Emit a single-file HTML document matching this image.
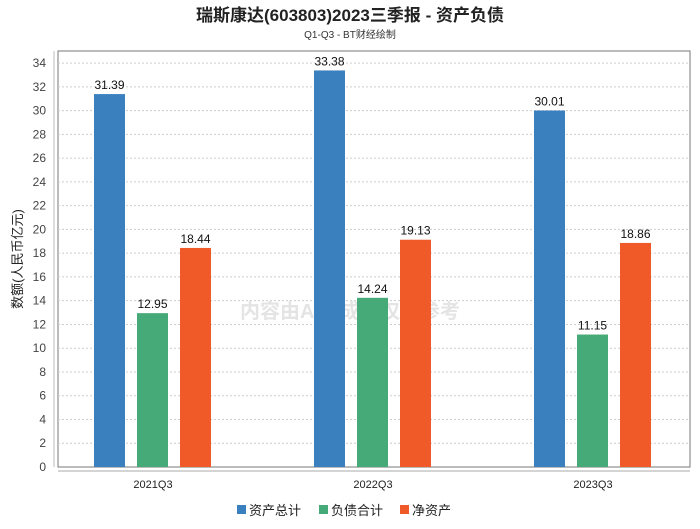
<!DOCTYPE html>
<html><head><meta charset="utf-8"><style>
body{margin:0;background:#fff;font-family:"Liberation Sans","Noto Sans CJK SC",sans-serif}
</style></head><body>
<svg width="700" height="524" xmlns="http://www.w3.org/2000/svg" font-family="Liberation Sans, Noto Sans CJK SC, sans-serif">
<text x="350" y="21" text-anchor="middle" font-size="17" font-weight="bold" fill="#222">瑞斯康达(603803)2023三季报 - 资产负债</text>
<text x="350" y="38" text-anchor="middle" font-size="10" fill="#333">Q1-Q3 - BT财经绘制</text>
<rect x="58" y="51" width="632" height="416" fill="none" stroke="#777"/>
<line x1="54" y1="51" x2="54" y2="467" stroke="#bbb"/>
<line x1="58" y1="471" x2="690" y2="471" stroke="#aaa"/>
<g id="grid"></g>
<text x="350" y="318" text-anchor="middle" font-size="20" fill="#e4e4e4" font-weight="bold">内容由AI生成，仅供参考</text>
<g id="bars"></g><g id="labels"></g>
<text transform="translate(22,259) rotate(-90)" text-anchor="middle" font-size="13" fill="#222">数额(人民币亿元)</text>
<g font-size="13" fill="#222">
<rect x="237" y="505" width="9" height="9" fill="#3a80bf"/><text x="249" y="515">资产总计</text>
<rect x="319" y="505" width="9" height="9" fill="#46a978"/><text x="331" y="515">负债合计</text>
<rect x="400" y="505" width="9" height="9" fill="#f05a28"/><text x="412" y="515">净资产</text>
</g>
</svg>
<script>
const categories=["2021Q3","2022Q3","2023Q3"];
const assets=[31.39,33.38,30.01];
const liabilities=[12.95,14.24,11.15];
const equity=[18.44,19.13,18.86];
const yTicks=[0,2,4,6,8,10,12,14,16,18,20,22,24,26,28,30,32,34];
const NS="http://www.w3.org/2000/svg";
const y=v=>467-v*11.88;
const xc=i=>153+220*i;
function mk(t,a,p){const e=document.createElementNS(NS,t);for(const k in a)e.setAttribute(k,a[k]);p.appendChild(e);return e;}
const grid=document.getElementById('grid'),bars=document.getElementById('bars'),labels=document.getElementById('labels');
yTicks.forEach(t=>{
 if(t>0){const l=mk('line',{x1:58,x2:690,y1:y(t),y2:y(t),stroke:'#ccc','stroke-dasharray':'2,2'},grid);
 
 }
 const tx=mk('text',{x:46,y:y(t)+4,'text-anchor':'end','font-size':12,fill:'#444'},grid);tx.textContent=t;
 
 
});
const series=[[assets,'#3a80bf','assets'],[liabilities,'#46a978','liabilities'],[equity,'#f05a28','equity']];
categories.forEach((c,i)=>{
 const t=mk('text',{x:xc(i),y:488,'text-anchor':'middle','font-size':11,fill:'#222'},labels);t.textContent=c;
 
 
 series.forEach(([arr,col,nm],s)=>{
  const x=xc(i)-59+43*s;
  const r=mk('rect',{x:x,y:y(arr[i]),width:31,height:467-y(arr[i]),fill:col},bars);
  
  
  const v=mk('text',{x:x+15.5,y:y(arr[i])-5,'text-anchor':'middle','font-size':12,fill:'#111'},labels);v.textContent=arr[i].toFixed(2);
  
  
 });
});
</script>
</body></html>
